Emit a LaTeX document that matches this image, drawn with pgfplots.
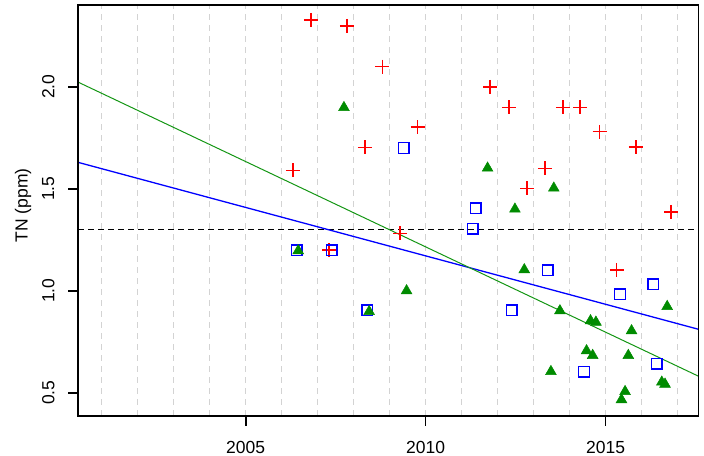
\documentclass[border=0pt]{standalone}
\usepackage{fontspec}
\setmainfont{Liberation Sans}
\usepackage{pgfplots}
\pgfplotsset{compat=1.18}
\definecolor{rgreen}{RGB}{0,139,0}
\definecolor{rgreenline}{RGB}{20,150,20}
\definecolor{rgrid}{RGB}{211,211,211}
\begin{document}
\begin{tikzpicture}
\useasboundingbox (0,0) rectangle (704bp,456bp);
\begin{axis}[
  name=ax,
  at={(78.3bp,40bp)}, anchor=south west,
  scale only axis, width=620.2bp, height=411.3bp,
  xmin=2000.35, xmax=2017.58, ymin=0.386, ymax=2.402,
  axis line style={draw=black, line width=1.3bp},
  xtick={2005,2010,2015}, xticklabels={2005,2010,2015},
  ytick={0.5,1.0,1.5,2.0}, yticklabels={0.5,1.0,1.5,2.0},
  minor xtick={2001,2002,...,2017},
  xminorgrids=true, xmajorgrids=false, ymajorgrids=false,
  minor grid style={draw=rgrid, line width=1.3bp, dash pattern=on 6bp off 5bp},
  minor tick length=0pt, major tick length=0pt,
  xtick pos=left, ytick pos=left,
  ticklabel style={font=\fontsize{17.5bp}{21bp}\selectfont},
  xticklabel style={anchor=center, yshift=-31.7bp},
  yticklabel style={xshift=-30bp, rotate=90, anchor=center},
  ylabel={TN (ppm)},
  ylabel style={at={(axis description cs:-0.0892,0.512)}, anchor=center, font=\fontsize{17.5bp}{21bp}\selectfont},
]
% reference level
\addplot[draw=black, line width=1.3bp, dash pattern=on 6bp off 4bp] coordinates {(2000.35,1.3) (2017.58,1.3)};
% fitted lines
\addplot[draw=blue, line width=1.3bp] coordinates {(2000.35,1.629) (2017.58,0.811)};
\addplot[draw=rgreenline, line width=1.0bp] coordinates {(2000.35,2.022) (2017.58,0.581)};
% red crosses
\addplot[only marks, mark=+, mark size=7bp, mark options={draw=red, line width=1.4bp}] coordinates {
(2006.31,1.590) (2006.81,2.327) (2007.81,2.298) (2008.80,2.098) (2008.31,1.703)
(2009.78,1.802) (2011.79,1.999) (2012.31,1.899) (2012.82,1.502) (2013.31,1.600)
(2013.81,1.899) (2014.29,1.899) (2014.83,1.779) (2015.84,1.704) (2016.82,1.386)
(2015.31,1.101) (2009.29,1.281) (2007.32,1.199)
};
% blue squares
\addplot[only marks, mark=square, mark size=5.3bp, mark options={draw=blue, line width=1.4bp}] coordinates {
(2006.42,1.199) (2007.39,1.199) (2008.38,0.905) (2009.39,1.700) (2011.39,1.404)
(2011.31,1.304) (2013.39,1.101) (2012.39,0.904) (2015.40,0.982) (2016.32,1.031)
(2016.42,0.642) (2014.40,0.603)
};
% green triangles
\addplot[only marks, mark=triangle*, mark size=6.2bp, mark options={draw=rgreen, fill=rgreen, line width=0.5bp}] coordinates {
(2007.73,1.898) (2006.46,1.196) (2008.43,0.898) (2009.47,1.000) (2011.72,1.601)
(2013.56,1.503) (2012.48,1.400) (2012.74,1.103) (2013.73,0.902) (2013.48,0.604)
(2014.58,0.853) (2014.73,0.846) (2015.72,0.804) (2016.71,0.923) (2014.47,0.706)
(2014.64,0.683) (2015.63,0.683) (2016.56,0.552) (2016.65,0.542) (2015.54,0.506)
(2015.44,0.466)
};
\end{axis}
% frame and tick marks (axis decoration)
\draw[draw=black, line width=1.8bp] (78.3bp,40bp) rectangle (698.5bp,451.3bp);
\foreach \tx in {245.7,425.66,605.6} {
  \draw[draw=black, line width=1.6bp] (\tx bp,40bp) -- (\tx bp,30bp);
}
\foreach \ty in {63.26,165.27,267.28,369.29} {
  \draw[draw=black, line width=1.6bp] (78.3bp,\ty bp) -- (68.3bp,\ty bp);
}
\end{tikzpicture}
\end{document}
